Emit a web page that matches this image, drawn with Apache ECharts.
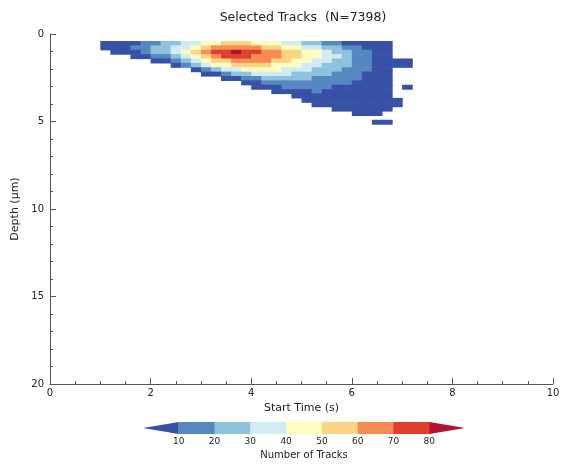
<!DOCTYPE html>
<html>
<head>
<meta charset="utf-8">
<script src="https://cdn.jsdelivr.net/npm/echarts@6/dist/echarts.min.js"></script>
<style>
html,body{margin:0;padding:0;background:#ffffff;}
#chart{width:563px;height:465px;}
</style>
</head>
<body>
<div id="chart"></div>
<script>
// ---------------- data ----------------
const chartTitle = 'Selected Tracks  (N=7398)';
const xAxisTitle = 'Start Time (s)';
const yAxisTitle = 'Depth (\u03bcm)';
const colorbarTitle = 'Number of Tracks';

// left edges of the time bins (s) and top edges of the depth bins (um)
const timeBinStart = [1.0,1.2,1.4,1.6,1.8,2.0,2.2,2.4,2.6,2.8,3.0,3.2,3.4,3.6,3.8,4.0,4.2,4.4,4.6,4.8,5.0,5.2,5.4,5.6,5.8,6.0,6.2,6.4,6.6,6.8,7.0];
const timeBinWidth = 0.2;
const depthBinStart = [0.40,0.65,0.90,1.15,1.40,1.65,1.90,2.15,2.40,2.65,2.90,3.15,3.40,3.65,3.90,4.15,4.40,4.65,4.90];
const depthBinHeight = 0.25;

// estimated track counts per bin, one array per depth row (columns follow timeBinStart)
const countsD040 = [5,5,5,5,15,15,25,25,35,35,45,45,55,55,55,45,45,45,35,35,25,25,15,15,5,5,5,5,5,0,0];
const countsD065 = [5,5,5,15,15,25,25,35,35,45,55,65,65,65,65,65,55,55,45,45,35,35,25,25,15,15,5,5,5,0,0];
const countsD090 = [0,5,5,5,15,25,25,35,45,55,65,75,78,84,75,75,65,65,55,55,45,45,35,25,25,15,15,5,5,0,0];
const countsD115 = [0,0,0,5,5,15,15,25,35,45,55,65,75,75,75,65,65,65,55,55,45,45,35,35,25,15,15,5,5,0,0];
const countsD140 = [0,0,0,0,0,5,5,15,25,35,45,55,55,65,65,65,65,55,55,45,45,35,35,25,25,15,15,5,5,5,5];
const countsD165 = [0,0,0,0,0,0,0,5,15,25,35,45,45,55,55,55,55,45,45,45,35,35,25,25,25,15,15,5,5,5,5];
const countsD190 = [0,0,0,0,0,0,0,0,0,5,15,25,35,35,45,45,45,45,35,35,35,25,25,25,15,15,15,5,5,0,0];
const countsD215 = [0,0,0,0,0,0,0,0,0,0,5,5,15,25,25,35,35,35,35,25,25,25,25,15,15,15,5,5,5,0,0];
const countsD240 = [0,0,0,0,0,0,0,0,0,0,0,0,5,5,15,15,25,25,25,25,25,15,15,15,15,15,5,5,5,0,0];
const countsD265 = [0,0,0,0,0,0,0,0,0,0,0,0,0,0,5,5,15,15,15,15,15,15,15,15,15,5,5,5,5,0,0];
const countsD290 = [0,0,0,0,0,0,0,0,0,0,0,0,0,0,0,5,5,5,15,15,15,15,15,5,5,5,5,5,5,0,5];
const countsD315 = [0,0,0,0,0,0,0,0,0,0,0,0,0,0,0,0,0,5,5,5,5,15,5,5,5,5,5,5,5,0,0];
const countsD340 = [0,0,0,0,0,0,0,0,0,0,0,0,0,0,0,0,0,0,0,5,5,5,5,5,5,5,5,5,5,0,0];
const countsD365 = [0,0,0,0,0,0,0,0,0,0,0,0,0,0,0,0,0,0,0,0,5,5,5,5,5,5,5,5,5,5,0];
const countsD390 = [0,0,0,0,0,0,0,0,0,0,0,0,0,0,0,0,0,0,0,0,0,5,5,5,5,5,5,5,5,5,0];
const countsD415 = [0,0,0,0,0,0,0,0,0,0,0,0,0,0,0,0,0,0,0,0,0,0,0,5,5,5,5,5,5,0,0];
const countsD440 = [0,0,0,0,0,0,0,0,0,0,0,0,0,0,0,0,0,0,0,0,0,0,0,0,0,5,5,5,0,0,0];
const countsD465 = [0,0,0,0,0,0,0,0,0,0,0,0,0,0,0,0,0,0,0,0,0,0,0,0,0,0,0,0,0,0,0];
const countsD490 = [0,0,0,0,0,0,0,0,0,0,0,0,0,0,0,0,0,0,0,0,0,0,0,0,0,0,0,5,5,0,0];

// contour levels (colorbar tick labels)
const countLevels = [10,20,30,40,50,60,70,80];
const xTickValues = [0,2,4,6,8,10];
const yTickValues = [0,5,10,15,20];

// ---------------- styling ----------------
const levelColors = ['#3651a5','#5587c0','#8fc3dd','#d3ecf4','#fdfdc0','#fed384','#f88d52','#de3f2e','#b0122b'];
const fontFamily = 'DejaVu Sans';
const textColor = '#222';
const axisColor = '#555';

const countRows = [countsD040,countsD065,countsD090,countsD115,countsD140,countsD165,countsD190,countsD215,countsD240,countsD265,countsD290,countsD315,countsD340,countsD365,countsD390,countsD415,countsD440,countsD465,countsD490];

function levelIndex(v){
  let i = 0;
  while (i < countLevels.length && v >= countLevels[i]) i++;
  return i;
}

const cellData = [];
countRows.forEach(function(row, r){
  row.forEach(function(v, c){
    if (v > 0) cellData.push([timeBinStart[c], depthBinStart[r], v]);
  });
});

const levelStep = countLevels[1] - countLevels[0];
const barData = [];
barData.push([countLevels[0] - levelStep, countLevels[0], 0]);
for (let i = 0; i < countLevels.length - 1; i++) barData.push([countLevels[i], countLevels[i+1], i+1]);
barData.push([countLevels[countLevels.length-1], countLevels[countLevels.length-1] + levelStep, countLevels.length]);

const chart = echarts.init(document.getElementById('chart'), null, {renderer:'canvas'});

const option = {
  animation: false,
  backgroundColor: '#ffffff',
  title: {
    text: chartTitle,
    left: 298, top: 6, textAlign: 'center',
    textStyle: {fontFamily: fontFamily, fontSize: 12.5, fontWeight: 'normal', color: textColor}
  },
  grid: [
    {left: 50, right: 10, top: 34, bottom: 81, outerBoundsMode: 'none'},
    {left: 143, right: 98, top: 422, height: 12, outerBoundsMode: 'none'}
  ],
  xAxis: [
    {
      type: 'value', gridIndex: 0, min: xTickValues[0], max: xTickValues[xTickValues.length-1],
      interval: xTickValues[1] - xTickValues[0],
      name: xAxisTitle, nameLocation: 'middle', nameGap: 17,
      nameTextStyle: {fontFamily: fontFamily, fontSize: 11, color: textColor},
      axisLine: {show: true, onZero: false, lineStyle: {color: axisColor, width: 1}},
      axisTick: {show: true, inside: true, length: 6, lineStyle: {color: axisColor}},
      minorTick: {show: true, splitNumber: 4, length: 3, lineStyle: {color: axisColor}},
      axisLabel: {fontFamily: fontFamily, fontSize: 10, color: textColor, margin: 4},
      splitLine: {show: false}
    },
    {
      type: 'value', gridIndex: 1, min: 0, max: 90, interval: 10,
      name: colorbarTitle, nameLocation: 'middle', nameGap: 16,
      nameTextStyle: {fontFamily: fontFamily, fontSize: 10, color: textColor},
      axisLine: {show: false}, axisTick: {show: false}, splitLine: {show: false},
      axisLabel: {
        fontFamily: fontFamily, fontSize: 9, color: textColor, margin: 3,
        formatter: function(v){ return countLevels.indexOf(v) >= 0 ? String(v) : ''; }
      }
    }
  ],
  yAxis: [
    {
      type: 'value', gridIndex: 0, inverse: true, min: yTickValues[0], max: yTickValues[yTickValues.length-1],
      interval: yTickValues[1] - yTickValues[0],
      name: yAxisTitle, nameLocation: 'middle', nameGap: 26, nameRotate: 90,
      nameTextStyle: {fontFamily: fontFamily, fontSize: 11, color: textColor},
      axisLine: {show: true, onZero: false, lineStyle: {color: axisColor, width: 1}},
      axisTick: {show: true, inside: true, length: 6, lineStyle: {color: axisColor}},
      minorTick: {show: true, splitNumber: 5, length: 3, lineStyle: {color: axisColor}},
      axisLabel: {fontFamily: fontFamily, fontSize: 10, color: textColor, margin: 6},
      splitLine: {show: false}
    },
    {type: 'value', gridIndex: 1, min: 0, max: 1, show: false}
  ],
  series: [
    {
      type: 'custom', xAxisIndex: 0, yAxisIndex: 0,
      data: cellData,
      encode: {x: 0, y: 1},
      renderItem: function(params, api){
        const t0 = api.value(0), d0 = api.value(1), v = api.value(2);
        const p0 = api.coord([t0, d0]);
        const p1 = api.coord([t0 + timeBinWidth, d0 + depthBinHeight]);
        return {
          type: 'rect',
          shape: {
            x: Math.min(p0[0], p1[0]), y: Math.min(p0[1], p1[1]),
            width: Math.abs(p1[0] - p0[0]) + 0.6, height: Math.abs(p1[1] - p0[1]) + 0.6
          },
          style: {fill: levelColors[levelIndex(v)]}
        };
      }
    },
    {
      type: 'custom', xAxisIndex: 1, yAxisIndex: 1,
      data: barData,
      encode: {x: [0, 1]},
      renderItem: function(params, api){
        const lo = api.value(0), hi = api.value(1), idx = api.value(2);
        const color = levelColors[idx];
        if (idx === 0) {
          return {type: 'polygon', shape: {points: [api.coord([lo, 0.5]), api.coord([hi, 0]), api.coord([hi, 1])]}, style: {fill: color}};
        }
        if (idx === levelColors.length - 1) {
          return {type: 'polygon', shape: {points: [api.coord([lo, 0]), api.coord([hi, 0.5]), api.coord([lo, 1])]}, style: {fill: color}};
        }
        const a = api.coord([lo, 1]), b = api.coord([hi, 0]);
        return {type: 'rect', shape: {x: a[0], y: a[1], width: b[0] - a[0] + 0.5, height: b[1] - a[1]}, style: {fill: color}};
      }
    }
  ]
};
chart.setOption(option);
</script>
</body>
</html>
